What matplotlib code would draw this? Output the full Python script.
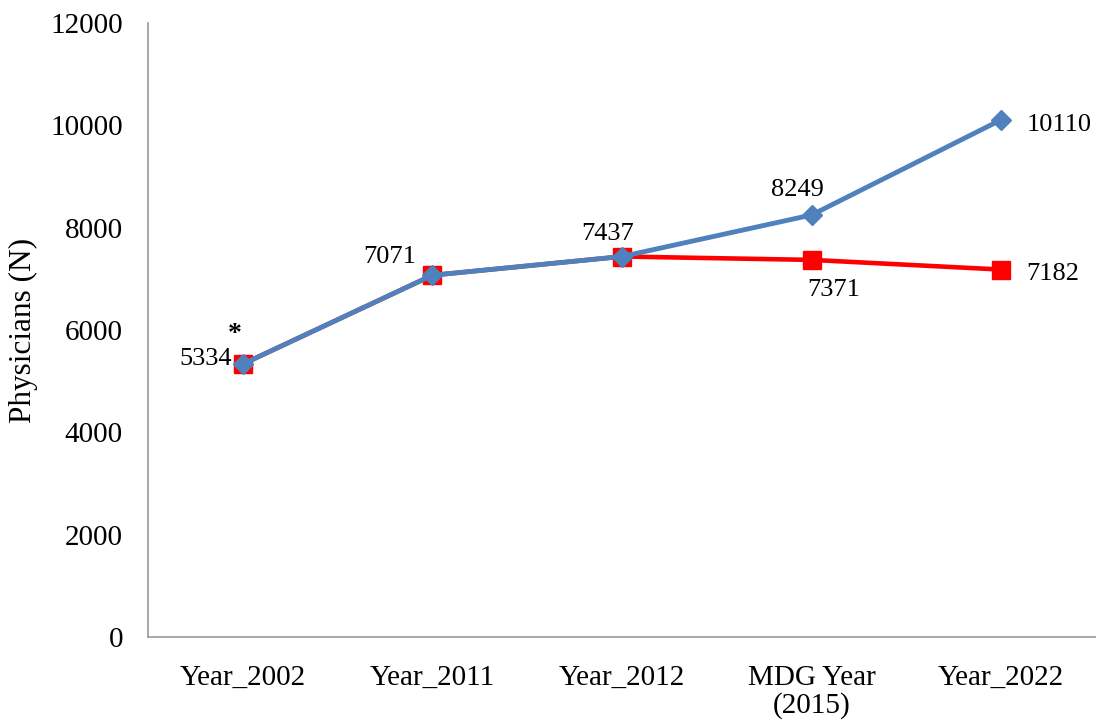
import matplotlib.pyplot as plt
import numpy as np

# chart data
categories = ['Year_2002', 'Year_2011', 'Year_2012', 'MDG Year\n(2015)', 'Year_2022']
red_values = [5334, 7071, 7437, 7371, 7182]
blue_values = [5334, 7071, 7437, 8249, 10110]
yticks = [0, 2000, 4000, 6000, 8000, 10000, 12000]

plt.rcParams['font.family'] = ['Liberation Serif', 'DejaVu Serif']

fig = plt.figure(figsize=(10.96, 7.21), dpi=100)
ax = fig.add_axes([0.135, 0.1165, 0.865, 0.8515])

x = np.arange(len(categories))
ax.plot(x, red_values, color='#FF0000', linewidth=3.3, marker='s', markersize=13,
        markeredgecolor='#FF0000', zorder=2, clip_on=False)
ax.plot(x, blue_values, color='#4F81BD', linewidth=3.5, marker='D', markersize=10,
        markeredgecolor='#4F81BD', zorder=3, clip_on=False)

ax.set_xlim(-0.5, 4.5)
ax.set_ylim(0, 12000)
ax.set_yticks(yticks)
ax.set_xticks(x)
ax.set_xticklabels(categories, linespacing=1.05)
ax.tick_params(axis='both', length=0, labelsize=21)
ax.tick_params(axis='x', pad=20)
ax.tick_params(axis='y', pad=18)
ax.set_ylabel('Physicians (N)', fontsize=22.5)
ax.yaxis.set_label_coords(-0.116, 0.5)

for side in ['top', 'right']:
    ax.spines[side].set_visible(False)
for side in ['left', 'bottom']:
    ax.spines[side].set_color('#999999')
    ax.spines[side].set_linewidth(1.2)

# data labels
fs = 19
ax.annotate(str(blue_values[0]), (x[0], blue_values[0]), xytext=(-8, 4),
            textcoords='offset points', ha='right', va='center', fontsize=fs)
ax.annotate('*', (x[0], blue_values[0]), xytext=(-6, 12),
            textcoords='offset points', ha='center', va='bottom', fontsize=20,
            fontweight='bold')
ax.annotate(str(blue_values[1]), (x[1], blue_values[1]), xytext=(-12, 5),
            textcoords='offset points', ha='right', va='bottom', fontsize=fs)
ax.annotate(str(blue_values[2]), (x[2], blue_values[2]), xytext=(-10, 8),
            textcoords='offset points', ha='center', va='bottom', fontsize=fs)
ax.annotate(str(blue_values[3]), (x[3], blue_values[3]), xytext=(-10, 10),
            textcoords='offset points', ha='center', va='bottom', fontsize=fs)
ax.annotate(str(blue_values[4]), (x[4], blue_values[4]), xytext=(18, -4),
            textcoords='offset points', ha='left', va='center', fontsize=fs)
ax.annotate(str(red_values[3]), (x[3], red_values[3]), xytext=(16, -14),
            textcoords='offset points', ha='center', va='top', fontsize=fs)
ax.annotate(str(red_values[4]), (x[4], red_values[4]), xytext=(18, -3),
            textcoords='offset points', ha='left', va='center', fontsize=fs)

fig.savefig('out.png', dpi=100)
